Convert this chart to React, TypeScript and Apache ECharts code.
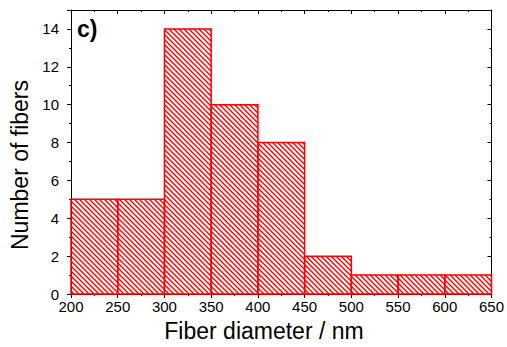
import React, { useEffect, useRef } from "react";
import * as echarts from "echarts";

const binStarts = [200, 250, 300, 350, 400, 450, 500, 550, 600];
const binEnds = [250, 300, 350, 400, 450, 500, 550, 600, 650];
const counts = [5, 5, 14, 10, 8, 2, 1, 1, 1];
const xRange = [200, 650];
const yRange = [0, 15];
const xTitle = "Fiber diameter / nm";
const yTitle = "Number of fibers";
const panelLabel = "c)";

const FONT = "Liberation Sans, Arial, sans-serif";
const RED = "#ff0000";

export default function App() {
  const ref = useRef<HTMLDivElement>(null);
  useEffect(() => {
    if (!ref.current) return;
    const chart = echarts.init(ref.current, undefined, { renderer: "svg" });
    const data = binStarts.map((s, i) => [s, binEnds[i], counts[i]]);
    const baseX = {
      type: "value",
      min: xRange[0],
      max: xRange[1],
      interval: 50,
      splitLine: { show: false },
      minorSplitLine: { show: false },
      axisLine: { show: true, onZero: false, lineStyle: { color: "#000", width: 1 } },
    };
    const baseY = {
      type: "value",
      min: yRange[0],
      max: yRange[1],
      splitLine: { show: false },
      axisLine: { show: true, onZero: false, lineStyle: { color: "#000", width: 1 } },
    };
    chart.setOption({
      animation: false,
      backgroundColor: "#fff",
      grid: { left: 71, right: 14, top: 10, bottom: 53, containLabel: false },
      xAxis: [
        {
          ...baseX,
          position: "bottom",
          axisTick: { show: true, inside: false, length: 4, lineStyle: { color: "#000" } },
          minorTick: { show: true, splitNumber: 2, length: 2, lineStyle: { color: "#000" } },
          axisLabel: { show: true, color: "#000", fontSize: 15, fontFamily: FONT, margin: 5, lineHeight: 15 },
        },
        {
          ...baseX,
          position: "top",
          axisTick: { show: true, inside: true, length: 4, lineStyle: { color: "#000" } },
          minorTick: { show: true, splitNumber: 2, length: 2, lineStyle: { color: "#000" } },
          axisLabel: { show: false },
        },
      ],
      yAxis: [
        {
          ...baseY,
          position: "left",
          interval: 1,
          axisTick: { show: true, inside: false, length: 2, lineStyle: { color: "#000" } },
          axisLabel: {
            show: true,
            color: "#000",
            fontSize: 15,
            fontFamily: FONT,
            margin: 12,
            formatter: (v: number) => (v % 2 === 0 && v < yRange[1] ? String(v) : ""),
          },
        },
        {
          ...baseY,
          position: "left",
          interval: 2,
          axisLine: { show: false },
          axisTick: { show: true, inside: false, length: 4, lineStyle: { color: "#000" } },
          axisLabel: { show: false },
        },
        {
          ...baseY,
          position: "right",
          interval: 1,
          axisTick: { show: true, inside: true, length: 2, lineStyle: { color: "#000" } },
          axisLabel: { show: false },
        },
        {
          ...baseY,
          position: "right",
          interval: 2,
          axisLine: { show: false },
          axisTick: { show: true, inside: true, length: 4, lineStyle: { color: "#000" } },
          axisLabel: { show: false },
        },
      ],
      graphic: [
        {
          type: "text",
          x: 77,
          y: 29,
          style: { text: panelLabel, font: `bold 23px ${FONT}`, fill: "#000", verticalAlign: "middle", align: "left" },
        },
        {
          type: "text",
          x: 264,
          y: 331,
          style: { text: xTitle, font: `23px ${FONT}`, fill: "#000", verticalAlign: "middle", align: "center" },
        },
        {
          type: "text",
          x: 20,
          y: 165,
          rotation: Math.PI / 2,
          style: { text: yTitle, font: `23px ${FONT}`, fill: "#000", verticalAlign: "middle", align: "center" },
        },
      ],
      series: [
        {
          type: "custom",
          xAxisIndex: 0,
          yAxisIndex: 0,
          data,
          renderItem: (params: any, api: any) => {
            const p0 = api.coord([api.value(0), 0]);
            const p1 = api.coord([api.value(1), api.value(2)]);
            const left = p0[0];
            const right = p1[0];
            const bottom = p0[1];
            const top = p1[1];
            const step = 5;
            const children: any[] = [];
            const cMin = left - bottom;
            const cMax = right - top;
            for (let c = Math.ceil(cMin / step) * step; c <= cMax; c += step) {
              const xa = Math.max(left, top + c);
              const xb = Math.min(right, bottom + c);
              if (xb > xa) {
                children.push({
                  type: "line",
                  shape: { x1: xa, y1: xa - c, x2: xb, y2: xb - c },
                  style: { stroke: RED, lineWidth: 1.4 },
                });
              }
            }
            children.push({
              type: "rect",
              shape: { x: left, y: top, width: right - left, height: bottom - top },
              style: { fill: "none", stroke: RED, lineWidth: 1.5 },
            });
            return { type: "group", children };
          },
        },
      ],
    });
    return () => chart.dispose();
  }, []);
  return <div ref={ref} style={{ width: 507, height: 347, position: "absolute", left: 0, top: 0 }} />;
}
